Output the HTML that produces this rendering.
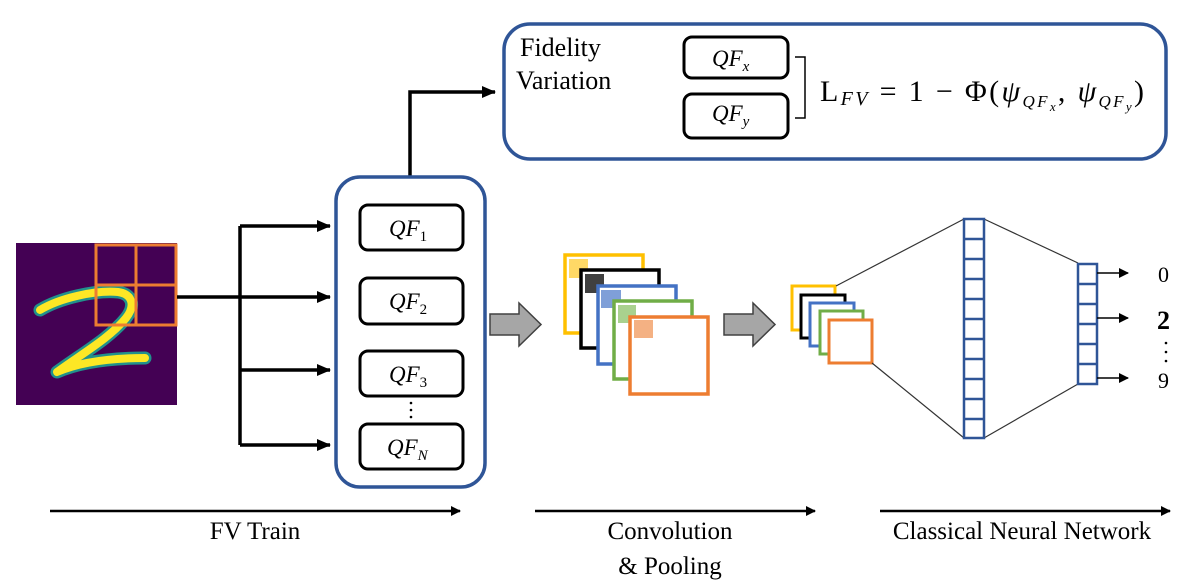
<!DOCTYPE html>
<html><head><meta charset="utf-8"><style>
html,body{margin:0;padding:0;background:#fff;}
svg{display:block;}
text{font-family:"Liberation Serif",serif;fill:#000;}
.it{font-style:italic;}
</style></head><body>
<svg width="1196" height="587" viewBox="0 0 1196 587" xmlns="http://www.w3.org/2000/svg">
<defs>
<marker id="ah" markerWidth="10" markerHeight="10" refX="9" refY="5" orient="auto" markerUnits="userSpaceOnUse"><path d="M0,0 L10,5 L0,10 z" fill="#000"/></marker>
<marker id="ah2" markerWidth="14" markerHeight="12" refX="13" refY="6" orient="auto" markerUnits="userSpaceOnUse"><path d="M0,0 L14,6 L0,12 z" fill="#000"/></marker>
</defs>

<!-- MNIST image -->
<rect x="16" y="243" width="161" height="162" fill="#440154"/>
<g fill="none" stroke-linecap="round" stroke-linejoin="round">
<path d="M40,310 C60,298 95,290 118,292 C132,294 136,305 126,318 C110,338 80,355 57,372 C80,362 110,358 145,358" stroke="#21918c" stroke-width="13"/>
<path d="M40,310 C60,298 95,290 118,292 C132,294 136,305 126,318 C110,338 80,355 57,372 C80,362 110,358 145,358" stroke="#fde725" stroke-width="8"/>
</g>
<g fill="none" stroke="#ed7d31" stroke-width="3">
<rect x="96" y="245" width="80" height="80"/>
<line x1="136" y1="245" x2="136" y2="325"/>
<line x1="96" y1="285" x2="176" y2="285"/>
</g>

<!-- branch -->
<g stroke="#000" stroke-width="3.5" fill="none">
<line x1="177" y1="297" x2="240" y2="297"/>
<line x1="240" y1="226" x2="240" y2="445"/>
<line x1="240" y1="226" x2="330" y2="226" marker-end="url(#ah2)"/>
<line x1="240" y1="297" x2="330" y2="297" marker-end="url(#ah2)"/>
<line x1="240" y1="370" x2="330" y2="370" marker-end="url(#ah2)"/>
<line x1="240" y1="445" x2="330" y2="445" marker-end="url(#ah2)"/>
<polyline points="410,177 410,92 495,92" marker-end="url(#ah2)"/>
</g>

<!-- QF box -->
<rect x="336" y="177" width="149" height="310" rx="24" fill="none" stroke="#2f5597" stroke-width="3.5"/>
<g fill="none" stroke="#000" stroke-width="3">
<rect x="360" y="205" width="103" height="45" rx="8"/>
<rect x="360" y="278" width="103" height="46" rx="8"/>
<rect x="360" y="351" width="103" height="45" rx="8"/>
<rect x="360" y="424" width="103" height="45" rx="8"/>
</g>
<g font-size="23">
<text x="389" y="236" class="it">QF<tspan font-size="15" font-style="normal" dy="5">1</tspan></text>
<text x="389" y="309" class="it">QF<tspan font-size="15" font-style="normal" dy="5">2</tspan></text>
<text x="389" y="382" class="it">QF<tspan font-size="15" font-style="normal" dy="5">3</tspan></text>
<text x="387" y="455" class="it">QF<tspan font-size="15" dy="5">N</tspan></text>
</g>
<g fill="#000"><circle cx="411" cy="403" r="1.3"/><circle cx="411" cy="410" r="1.3"/><circle cx="411" cy="417" r="1.3"/></g>

<!-- Top box -->
<rect x="504" y="24" width="662" height="135" rx="26" fill="none" stroke="#2f5597" stroke-width="3.5"/>
<text x="520" y="56" font-size="26">Fidelity</text>
<text x="516" y="89" font-size="26">Variation</text>
<g fill="none" stroke="#000" stroke-width="3">
<rect x="684" y="37" width="104" height="41" rx="8"/>
<rect x="684" y="94" width="104" height="44" rx="8"/>
</g>
<polyline points="795,57 805,57 805,118 795,118" fill="none" stroke="#000" stroke-width="1.5"/>
<text x="712" y="66" font-size="23" class="it">QF<tspan font-size="15" dy="5">x</tspan></text>
<text x="712" y="121" font-size="23" class="it">QF<tspan font-size="15" dy="5">y</tspan></text>
<text x="820" y="101" font-size="30" textLength="324" lengthAdjust="spacing">L<tspan class="it" font-size="20" dy="4">FV</tspan><tspan dy="-4"> = 1 − Φ(</tspan><tspan class="it">ψ</tspan><tspan class="it" font-size="17" dy="6">QF</tspan><tspan class="it" font-size="13" dy="4">x</tspan><tspan dy="-10">, </tspan><tspan class="it">ψ</tspan><tspan class="it" font-size="17" dy="6">QF</tspan><tspan class="it" font-size="13" dy="4">y</tspan><tspan dy="-10">)</tspan></text>

<!-- gray arrows -->
<path d="M490,314 L519,314 L519,303 L541,324.5 L519,346 L519,335 L490,335 z" fill="#a6a6a6" stroke="#404040" stroke-width="1.5"/>
<path d="M724,314 L753,314 L753,303 L775,324.5 L753,346 L753,335 L724,335 z" fill="#a6a6a6" stroke="#404040" stroke-width="1.5"/>

<!-- conv maps -->
<g stroke-width="3.5">
<rect x="565" y="255" width="78" height="78" fill="#fff" stroke="#ffc000"/>
<rect x="569" y="259" width="19" height="19" fill="#ffd966"/>
<rect x="581" y="270" width="78" height="78" fill="#fff" stroke="#000"/>
<rect x="585" y="274" width="19" height="19" fill="#404040"/>
<rect x="598" y="286" width="78" height="78" fill="#fff" stroke="#4472c4"/>
<rect x="601" y="290" width="20" height="18" fill="#7f9fd8"/>
<rect x="614" y="301" width="78" height="78" fill="#fff" stroke="#70ad47"/>
<rect x="618" y="305" width="18" height="18" fill="#a9d18e"/>
<rect x="630" y="317" width="78" height="77" fill="#fff" stroke="#ed7d31"/>
<rect x="634" y="320" width="19" height="18" fill="#f4b183"/>
</g>
<g stroke-width="3" fill="#fff">
<rect x="792" y="286" width="43" height="44" stroke="#ffc000"/>
<rect x="801" y="295" width="44" height="43" stroke="#000"/>
<rect x="810" y="303" width="44" height="43" stroke="#4472c4"/>
<rect x="820" y="311" width="43" height="43" stroke="#70ad47"/>
<rect x="829" y="320" width="43" height="43" stroke="#ed7d31"/>
</g>

<!-- NN -->
<g stroke="#333" stroke-width="1.2">
<line x1="836" y1="286" x2="964" y2="219"/>
<line x1="872" y1="363" x2="964" y2="438"/>
<line x1="984" y1="219" x2="1078" y2="263"/>
<line x1="984" y1="438" x2="1078" y2="384"/>
</g>
<g fill="none" stroke="#2f5597" stroke-width="2.5">
<rect x="964" y="219" width="20" height="219"/>
<path d="M964,239h20M964,259h20M964,279h20M964,299h20M964,319h20M964,339h20M964,359h20M964,379h20M964,399h20M964,419h20"/>
<rect x="1078" y="264" width="19" height="120"/>
<path d="M1078,284h19M1078,304h19M1078,324h19M1078,344h19M1078,364h19"/>
</g>
<g stroke="#000" stroke-width="1.5">
<line x1="1097" y1="273" x2="1128" y2="273" marker-end="url(#ah)"/>
<line x1="1097" y1="318" x2="1128" y2="318" marker-end="url(#ah)"/>
<line x1="1097" y1="378" x2="1128" y2="378" marker-end="url(#ah)"/>
</g>
<text x="1158" y="282" font-size="22">0</text>
<text x="1157" y="329" font-size="26" font-weight="bold">2</text>
<g fill="#000"><circle cx="1166" cy="343" r="1.3"/><circle cx="1166" cy="352" r="1.3"/><circle cx="1166" cy="361" r="1.3"/></g>
<text x="1158" y="388" font-size="22">9</text>

<!-- bottom arrows -->
<g stroke="#000" stroke-width="2.5">
<line x1="50" y1="511" x2="460" y2="511" marker-end="url(#ah)"/>
<line x1="535" y1="511" x2="815" y2="511" marker-end="url(#ah)"/>
<line x1="880" y1="511" x2="1170" y2="511" marker-end="url(#ah)"/>
</g>
<g font-size="25" text-anchor="middle">
<text x="255" y="539">FV Train</text>
<text x="670" y="539">Convolution</text>
<text x="670" y="574">&amp; Pooling</text>
<text x="1022" y="539">Classical Neural Network</text>
</g>
</svg>
</body></html>
